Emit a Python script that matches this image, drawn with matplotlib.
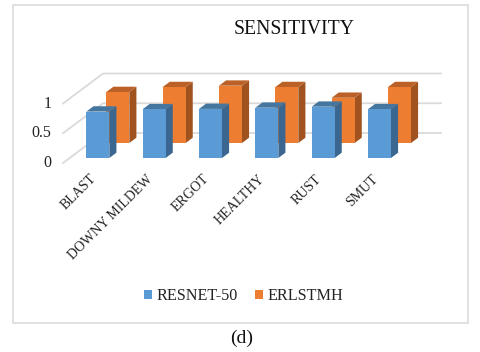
import matplotlib
matplotlib.use('Agg')
import matplotlib.pyplot as plt
from matplotlib.patches import Polygon, Rectangle

categories = ['BLAST', 'DOWNY MILDEW', 'ERGOT', 'HEALTHY', 'RUST', 'SMUT']
resnet = [0.78, 0.82, 0.825, 0.845, 0.862, 0.82]
erlstmh = [0.857, 0.94, 0.963, 0.94, 0.76, 0.94]
yticks = [0, 0.5, 1]

W, H = 480, 352
# oblique projection, one unit of depth in data units
DX = 0.71
DY = 0.504


def proj(x, y, d):
    return (x + DX * d, y + DY * d)


def box(ax, x0, x1, top, d0, d1, front, side, cap):
    z = 3 - d0
    ax.add_patch(Polygon([proj(x0, 0, d0), proj(x1, 0, d0), proj(x1, top, d0), proj(x0, top, d0)],
                         fc=front, ec='none', zorder=z + 0.2, clip_on=False))
    ax.add_patch(Polygon([proj(x1, 0, d0), proj(x1, 0, d1), proj(x1, top, d1), proj(x1, top, d0)],
                         fc=side, ec='none', zorder=z + 0.1, clip_on=False))
    ax.add_patch(Polygon([proj(x0, top, d0), proj(x1, top, d0), proj(x1, top, d1), proj(x0, top, d1)],
                         fc=cap, ec='none', zorder=z + 0.1, clip_on=False))


plt.rcParams['font.family'] = ['Liberation Serif']
fig = plt.figure(figsize=(W / 100, H / 100), dpi=100)
fig.patch.set_facecolor('white')

# chart frame
fig.add_artist(Rectangle((13 / W, 1 - 323 / H), 455 / W, 318 / H, fc='none', ec='#dcdcdc', lw=1.2,
                         transform=fig.transFigure))

ax = fig.add_axes([63 / W, 1 - 163 / H, 338 / W, 59.5 / H])
ax.set_xlim(0, 6)
ax.set_ylim(0, 1)
ax.axis('off')

for v in yticks:
    a = proj(0, v, 0)
    b = proj(0, v, 1)
    c = proj(6, v, 1)
    ax.plot([a[0], b[0], c[0]], [a[1], b[1], c[1]], color='#dadada', lw=1.3, clip_on=False, zorder=1)
    ax.text(-0.2, v, str(v), ha='right', va='center', fontsize=11.5, color='#222222')

for i, name in enumerate(categories):
    box(ax, i + 0.296, i + 0.704, erlstmh[i], 0.667, 0.844, '#ed7d31', '#a0521f', '#bb6127')
    box(ax, i + 0.296, i + 0.704, resnet[i], 0.167, 0.344, '#5b9bd5', '#3a6690', '#44769f')
    ax.annotate(name, xy=(i + 0.55, 0), xytext=(0, -14), textcoords='offset pixels',
                rotation=45, rotation_mode='anchor', ha='right', va='center',
                fontsize=10, color='#222222', annotation_clip=False)

fig.text(294 / W, 1 - 29 / H, 'SENSITIVITY', ha='center', va='center', fontsize=14.2, color='#111111')
fig.text(241.5 / W, 1 - 338 / H, '(d)', ha='center', va='center', fontsize=14, color='#111111')

handles = [Rectangle((0, 0), 1, 1, fc='#5b9bd5', lw=0), Rectangle((0, 0), 1, 1, fc='#ed7d31', lw=0)]
fig.legend(handles, ['RESNET-50', 'ERLSTMH'], loc='center', bbox_to_anchor=(243.5 / W, 1 - 296 / H), ncol=2,
           frameon=False, fontsize=11.6, handlelength=0.48, handleheight=0.5, handletextpad=0.27,
           columnspacing=1.1, labelcolor='#222222')

fig.savefig('out.png', dpi=100)
